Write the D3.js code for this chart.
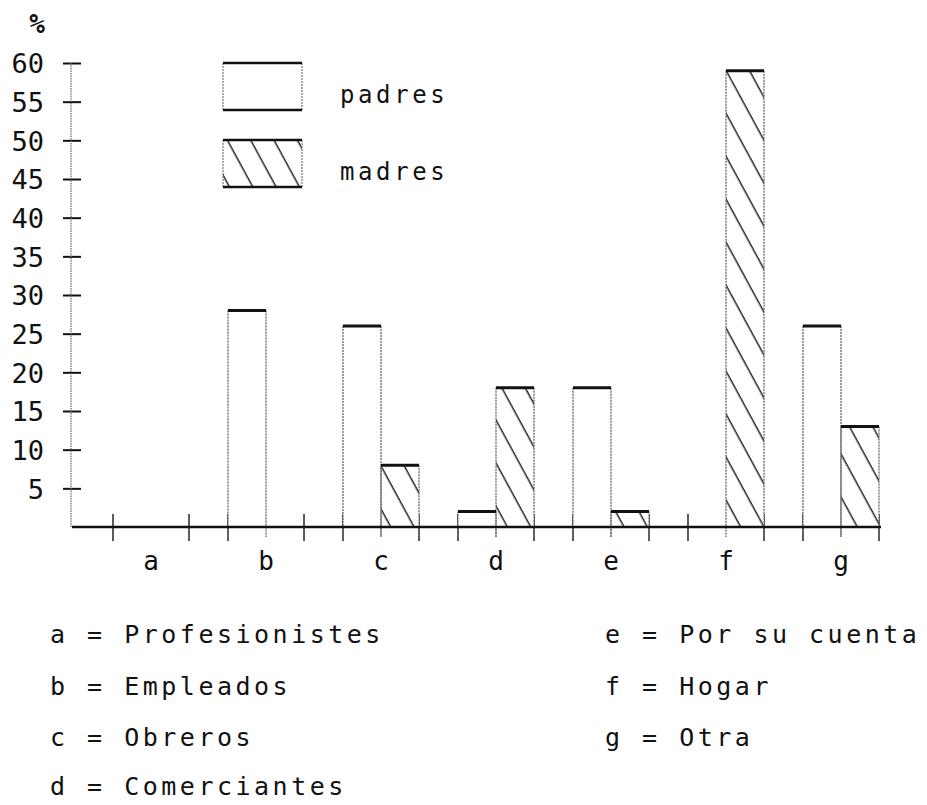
<!DOCTYPE html>
<html>
<head>
<meta charset="utf-8">
<script src="https://cdn.jsdelivr.net/npm/d3@7"></script>
<style>
  html, body { margin: 0; padding: 0; background: #fff; }
  svg { display: block; }
  text { font-family: "DejaVu Sans Mono", "Liberation Mono", monospace; fill: #111; }
</style>
</head>
<body>
<svg id="chart" width="927" height="805"></svg>
<script>
// ---- data ----
const categories = ["a", "b", "c", "d", "e", "f", "g"];
const seriesNames = ["padres", "madres"];
const padres = [0, 28, 26, 2, 18, 0, 26];
const madres = [0, 0, 8, 18, 2, 59, 13];
const yTicks = [5, 10, 15, 20, 25, 30, 35, 40, 45, 50, 55, 60];
const legendLeft = ["a = Profesionistes", "b = Empleados", "c = Obreros", "d = Comerciantes"];
const legendRight = ["e = Por su cuenta", "f = Hogar", "g = Otra"];

const svg = d3.select("#chart");

// hatch pattern
const defs = svg.append("defs");
const pat = defs.append("pattern")
  .attr("id", "hatch")
  .attr("patternUnits", "userSpaceOnUse")
  .attr("width", 20.5).attr("height", 20.5)
  .attr("patternTransform", "rotate(-28.5)");
pat.append("rect").attr("width", 20.5).attr("height", 20.5).attr("fill", "#fff");
pat.append("line").attr("x1", 10).attr("y1", 0).attr("x2", 10).attr("y2", 20.5)
  .attr("stroke", "#1a1a1a").attr("stroke-width", 1.4);

// scales
const y = d3.scaleLinear().domain([0, 60]).range([527, 63]);
const x = d3.scaleBand().domain(categories).range([113, 879]).paddingInner(0.339).paddingOuter(0);
const xs = d3.scaleBand().domain(seriesNames).range([0, x.bandwidth()]).padding(0);

// y axis
const yAxis = svg.append("g").attr("transform", "translate(71,0)")
  .call(d3.axisLeft(y).tickValues(yTicks).tickSizeOuter(0).tickSizeInner(8));
yAxis.select(".domain").remove();
yAxis.append("line").attr("x1", 0).attr("x2", 0).attr("y1", y(60)).attr("y2", y(0))
  .attr("stroke", "#666").attr("stroke-width", 1.2).attr("stroke-dasharray", "1.5,1");
yAxis.selectAll(".tick line").attr("x1", -8).attr("x2", 10)
  .attr("stroke", "#111").attr("stroke-width", 2);
yAxis.selectAll(".tick text")
  .attr("x", -27).attr("dy", "0.36em")
  .style("font-family", "'DejaVu Sans Mono', monospace")
  .style("font-size", "27px").attr("fill", "#111");

// % symbol
svg.append("text").attr("x", 37).attr("y", 33).attr("text-anchor", "middle")
  .style("font-size", "26px").style("font-weight", "bold").text("%");

// x axis labels
const xAxis = svg.append("g").attr("transform", "translate(0,527)")
  .call(d3.axisBottom(x).tickSize(0).tickPadding(0));
xAxis.select(".domain").remove();
xAxis.selectAll(".tick text").attr("y", 43).attr("dy", 0)
  .style("font-family", "'DejaVu Sans Mono', monospace")
  .style("font-size", "26px").attr("fill", "#111");

// group edge ticks
const edges = [];
categories.forEach(c => { edges.push(x(c)); edges.push(x(c) + x.bandwidth()); });
svg.append("g").selectAll("line").data(edges).join("line")
  .attr("x1", d => d).attr("x2", d => d)
  .attr("y1", 514).attr("y2", 541)
  .attr("stroke", "#333").attr("stroke-width", 1.6);

// bars
const rows = [];
categories.forEach((c, i) => {
  rows.push({ cat: c, s: "padres", v: padres[i] });
  rows.push({ cat: c, s: "madres", v: madres[i] });
});
const barG = svg.append("g");
const bars = rows.filter(d => d.v > 0);
barG.selectAll("rect").data(bars).join("rect")
  .attr("x", d => x(d.cat) + xs(d.s))
  .attr("y", d => y(d.v))
  .attr("width", xs.bandwidth())
  .attr("height", d => y(0) - y(d.v))
  .attr("fill", d => d.s === "madres" ? "url(#hatch)" : "#fff")
  .attr("stroke", "none");
// sides
const sides = [];
bars.forEach(d => {
  const x0 = x(d.cat) + xs(d.s);
  sides.push({ x: x0, v: d.v });
  sides.push({ x: x0 + xs.bandwidth(), v: d.v });
});
barG.selectAll("line.side").data(sides).join("line").attr("class", "side")
  .attr("x1", d => d.x).attr("x2", d => d.x)
  .attr("y1", d => y(d.v)).attr("y2", y(0) + 10)
  .attr("stroke", "#666").attr("stroke-width", 1.3).attr("stroke-dasharray", "2,1");
// tops
barG.selectAll("line.top").data(bars).join("line").attr("class", "top")
  .attr("x1", d => x(d.cat) + xs(d.s)).attr("x2", d => x(d.cat) + xs(d.s) + xs.bandwidth())
  .attr("y1", d => y(d.v)).attr("y2", d => y(d.v))
  .attr("stroke", "#111").attr("stroke-width", 3);

// baseline
svg.append("line").attr("x1", 72).attr("x2", 881).attr("y1", y(0)).attr("y2", y(0))
  .attr("stroke", "#111").attr("stroke-width", 2.6);

// legend
const lg = svg.append("g");
const legItems = [
  { name: seriesNames[0], yTop: 63, fill: "#fff" },
  { name: seriesNames[1], yTop: 140, fill: "url(#hatch)" }
];
legItems.forEach(it => {
  const g = lg.append("g");
  g.append("rect").attr("x", 223).attr("y", it.yTop).attr("width", 79).attr("height", 47)
    .attr("fill", it.fill).attr("stroke", "none");
  [223, 302].forEach(xx => g.append("line").attr("x1", xx).attr("x2", xx)
    .attr("y1", it.yTop).attr("y2", it.yTop + 47)
    .attr("stroke", "#777").attr("stroke-width", 1.2).attr("stroke-dasharray", "2,1"));
  [it.yTop, it.yTop + 47].forEach(yy => g.append("line").attr("x1", 223).attr("x2", 302)
    .attr("y1", yy).attr("y2", yy).attr("stroke", "#111").attr("stroke-width", 2.4));
  g.append("text").attr("x", 340).attr("y", it.yTop + 40)
    .style("font-size", "24px").style("letter-spacing", "3.6px").text(it.name);
});

// bottom key
const keyY = [643, 695, 746, 795];
svg.append("g").selectAll("text").data(legendLeft).join("text")
  .attr("x", 50).attr("y", (d, i) => keyY[i])
  .style("font-size", "25px").style("letter-spacing", "3.5px")
  .attr("xml:space", "preserve").text(d => d);
svg.append("g").selectAll("text").data(legendRight).join("text")
  .attr("x", 605).attr("y", (d, i) => keyY[i])
  .style("font-size", "25px").style("letter-spacing", "3.5px")
  .attr("xml:space", "preserve").text(d => d);
</script>
</body>
</html>
